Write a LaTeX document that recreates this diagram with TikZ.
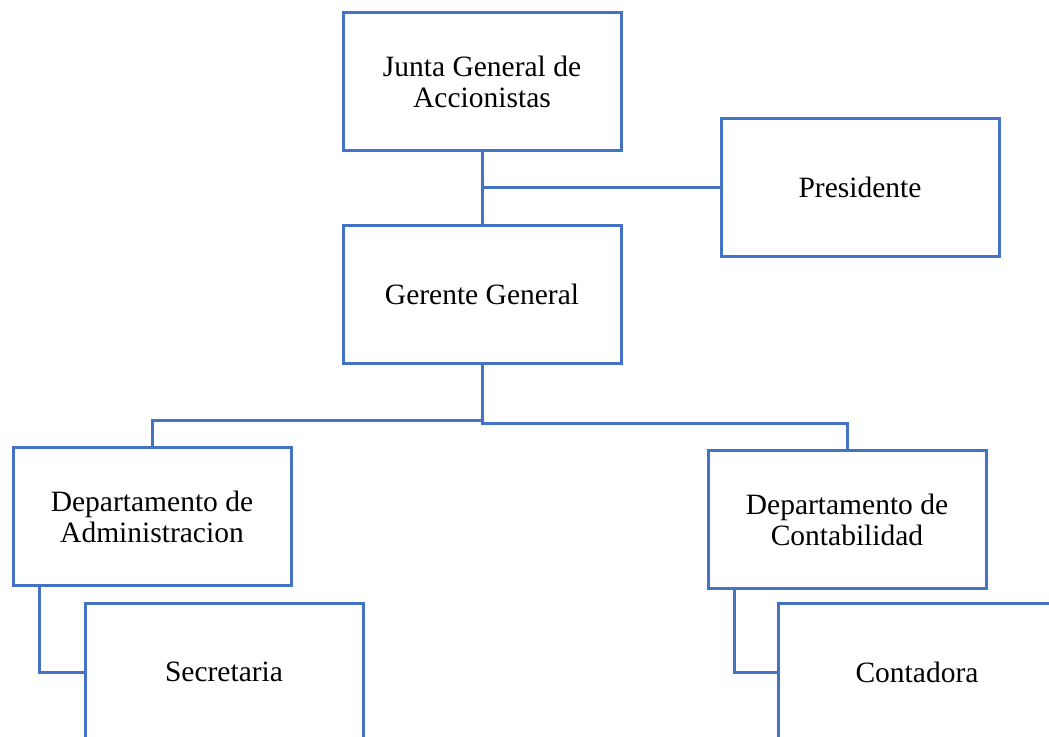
\documentclass[tikz,border=0pt]{standalone}
\usepackage{fontspec}
\setmainfont{Liberation Serif}
\usetikzlibrary{calc}
\definecolor{orgblue}{HTML}{4472C4}
\tikzset{
  unitbox/.style={draw=orgblue, line width=3pt, fill=white, minimum width=278pt,
    minimum height=138pt, inner sep=0pt, align=center, text=black,
    font=\fontsize{29.5}{31}\selectfont},
  link/.style={draw=orgblue, line width=3pt, line join=miter}
}
\begin{document}
\begin{tikzpicture}[x=1pt, y=-1pt]
  \clip (0,0) rectangle (1049,736);
  \fill[white] (0,0) rectangle (1049,736);

  % boxes
  \node[unitbox] (junta) at (482,81.5) {Junta General de\\Accionistas};
  \node[unitbox] (pres)  at (860,187)  {Presidente};
  \node[unitbox] (ger)   at (482,294.5) {Gerente General};
  \node[unitbox] (adm)   at (152,516.5) {Departamento de\\Administracion};
  \node[unitbox] (con)   at (847,519.5) {Departamento de\\Contabilidad};

  % connectors
  \draw[link] (junta.south) -- (ger.north);
  \draw[link] (junta.south |- pres.west) -- (pres.west);
  \draw[link] (ger.south) -- ++(0,55) -| (adm.north);
  \draw[link] (ger.south) -- ++(0,58) -| (con.north);

  \node[unitbox] (sec) at (224,672) {Secretaria};
  \node[unitbox] (cta) at (917,672) {Contadora};

  \draw[link] ($(adm.south west)+(28,0)$) |- (sec.west);
  \draw[link] ($(con.south west)+(28,0)$) |- (cta.west);
\end{tikzpicture}
\end{document}
